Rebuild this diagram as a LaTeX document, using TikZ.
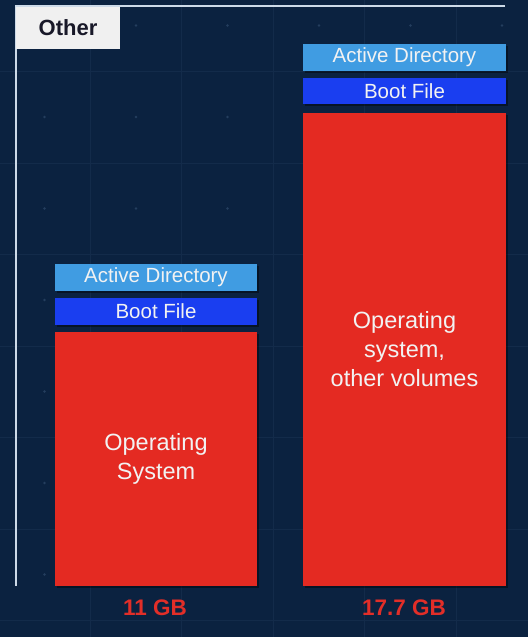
\documentclass[tikz,border=0pt]{standalone}
\usepackage{fontspec}
\setmainfont{Liberation Sans}
\usetikzlibrary{shadows}
\definecolor{navy}{RGB}{11,34,64}
\definecolor{gridc}{RGB}{19,43,74}
\definecolor{dotc}{RGB}{36,62,94}
\definecolor{adblue}{RGB}{64,156,226}
\definecolor{bootblue}{RGB}{26,62,240}
\definecolor{osred}{RGB}{228,42,34}
\definecolor{labred}{RGB}{226,46,40}
\definecolor{framec}{RGB}{205,218,232}
\definecolor{tagbg}{RGB}{240,240,240}
\definecolor{tagtext}{RGB}{24,24,40}
\definecolor{bartext}{RGB}{242,242,242}
\begin{document}
\begin{tikzpicture}[x=1pt,y=-1pt,
  gridline/.style={draw=gridc,line width=0.8pt},
  griddot/.style={fill=dotc},
  barbox/.style={rectangle,inner sep=0pt,text=bartext,align=center,
    drop shadow={shadow xshift=2pt,shadow yshift=-2pt,opacity=0.4,fill=black}},
  adbox/.style={barbox,fill=adblue,font=\fontsize{20.5}{24}\selectfont},
  bootbox/.style={barbox,fill=bootblue,font=\fontsize{20.5}{24}\selectfont},
  osbox/.style={barbox,fill=osred,font=\fontsize{23.5}{29}\selectfont},
  sizelabel/.style={text=labred,font=\bfseries\fontsize{22.5}{26}\selectfont,inner sep=0pt},
  frameline/.style={draw=framec,line width=1.8pt}]
  % background
  \fill[navy] (0,0) rectangle (528,637);
  \useasboundingbox (0,0) rectangle (528,637);
  % faint grid
  \foreach \x in {90,181.5,273,364.5,456}
    \draw[gridline] (\x,0) -- (\x,637);
  \foreach \y in {71.5,163,254.5,346,437.5,529,620.5}
    \draw[gridline] (0,\y) -- (528,\y);
  \foreach \x in {44.5,136,227.5,319,410.5,502}
    \foreach \y in {25.5,117,208.5,300,391.5,483,574.5}
      \fill[griddot] (\x,\y) circle (1.3);
  % frame and tag
  \draw[frameline] (505,6) -- (16,6) -- (16,586);
  \node[fill=tagbg,minimum width=104pt,minimum height=42pt,inner sep=0pt,
        text=tagtext,font=\bfseries\fontsize{22}{26}\selectfont] (tag) at (68,27.5) {Other};
  % left stack
  \node[adbox,minimum width=202pt,minimum height=27pt] (adL) at (156,277.5) {Active Directory};
  \node[bootbox,minimum width=202pt,minimum height=27pt] (bootL) at (156,311.5) {Boot File};
  \node[osbox,minimum width=202pt,minimum height=254pt] (osL) at (156,459) {Operating\\System};
  \node[sizelabel] (szL) at (155,608) {11 GB};
  % right stack
  \node[adbox,minimum width=203pt,minimum height=27pt] (adR) at (404.5,57.5) {Active Directory};
  \node[bootbox,minimum width=203pt,minimum height=26pt] (bootR) at (404.5,91) {Boot File};
  \node[osbox,minimum width=203pt,minimum height=473pt] (osR) at (404.5,349.5) {Operating\\system,\\other volumes};
  \node[sizelabel] (szR) at (404,608) {17.7 GB};
\end{tikzpicture}
\end{document}
